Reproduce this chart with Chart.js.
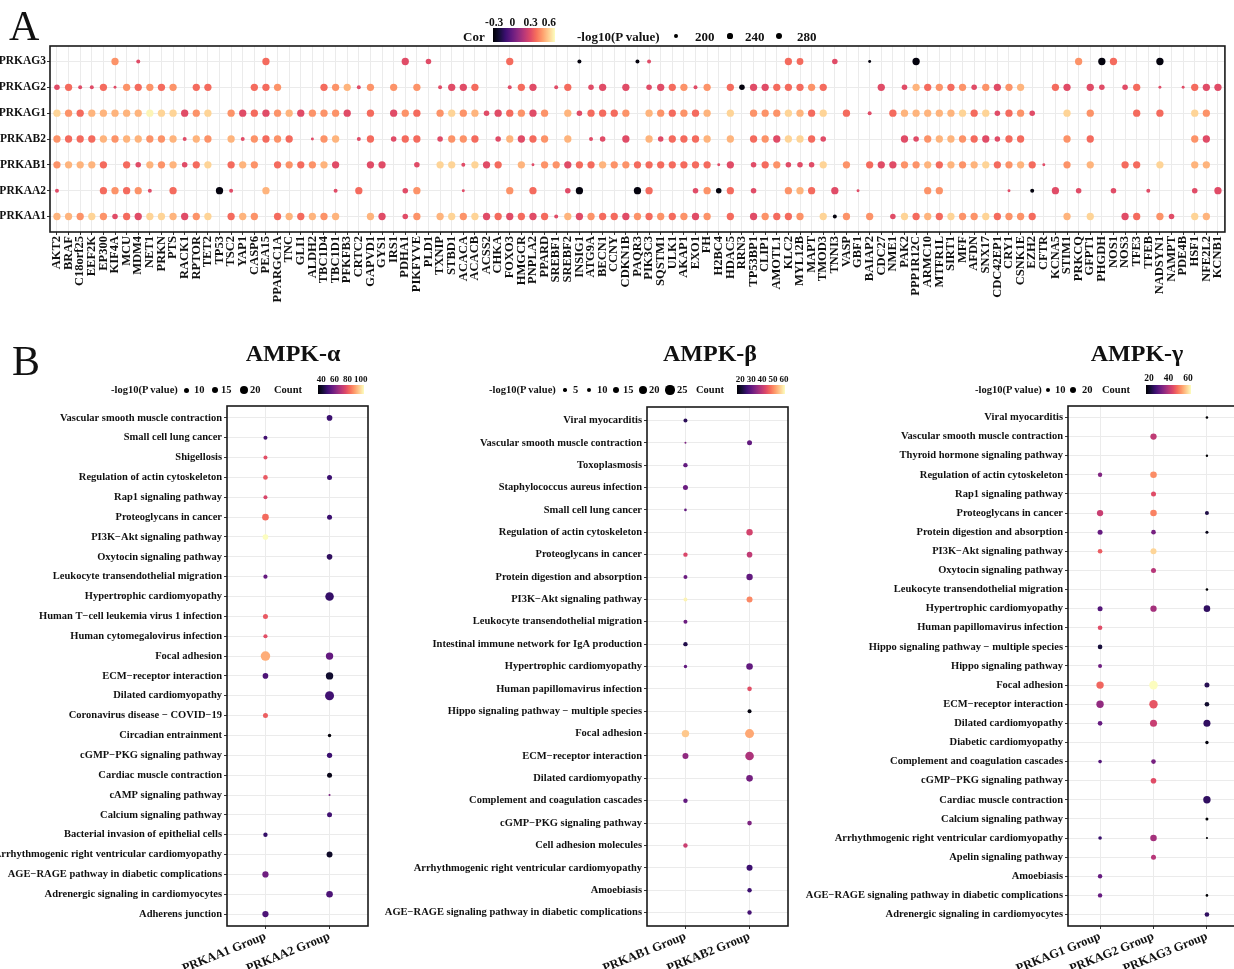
<!DOCTYPE html>
<html>
<head>
<meta charset="utf-8">
<title>AMPK subunit correlation and KEGG enrichment</title>
<script src="https://cdn.jsdelivr.net/npm/chart.js@4.4.1/dist/chart.umd.min.js"></script>
<style>
  html, body { margin:0; padding:0; background:#fff; }
  body { width:1234px; height:969px; overflow:hidden; position:relative; }
  canvas { position:absolute; }
  .txt { position:absolute; font-family:'Liberation Serif','Times New Roman',serif; font-weight:bold; line-height:1; white-space:nowrap; color:#111; }
  .bar { position:absolute; }
  .dot { position:absolute; background:#000; border-radius:50%; }
</style>
</head>
<body>
<canvas id="chartA" width="1234" height="345" style="left:0;top:0;width:1234px;height:345px"></canvas>
<canvas id="chartAlpha" width="385" height="574" style="left:0;top:395px;width:385px;height:574px"></canvas>
<canvas id="chartBeta" width="425" height="574" style="left:375px;top:395px;width:425px;height:574px"></canvas>
<canvas id="chartGamma" width="460" height="574" style="left:790px;top:395px;width:460px;height:574px"></canvas>
<script>
const _ = null;

// ---------------- Panel A data ----------------
const genes = ['AKT2','BRAF','C18orf25','EEF2K','EP300','KIF4A','MCU','MDM4','NET1','PRKN',
'PTS','RACK1','RPTOR','TET2','TP53','TSC2','YAP1','CASP6','PEA15','PPARGC1A',
'TNC','GLI1','ALDH2','TBC1D4','TBC1D1','PFKFB3','CRTC2','GAPVD1','GYS1','IRS1',
'PDHA1','PIKFYVE','PLD1','TXNIP','STBD1','ACACA','ACACB','ACSS2','CHKA','FOXO3',
'HMGCR','PNPLA2','PPARD','SREBF1','SREBF2','INSIG1','ATG9A','BECN1','CCNY','CDKN1B',
'PAQR3','PIK3C3','SQSTM1','ULK1','AKAP1','EXO1','FH','H2BC4','HDAC5','RRN3',
'TP53BP1','CLIP1','AMOTL1','KLC2','MYL12B','MAPT','TMOD3','TNNI3','VASP','GBF1',
'BAIAP2','CDC27','NME1','PAK2','PPP1R12C','ARMC10','MTFR1L','SIRT1','MFF','AFDN',
'SNX17','CDC42EP1','CRY1','CSNK1E','EZH2','CFTR','KCNA5','STIM1','PRKCQ','GFPT1',
'PHGDH','NOS1','NOS3','TFE3','TFEB','NADSYN1','NAMPT','PDE4B','HSF1','NFE2L2',
'KCNB1'];
const subunitsA = ['PRKAG3','PRKAG2','PRKAG1','PRKAB2','PRKAB1','PRKAA2','PRKAA1'];

const corAG3 = [
_,_,_,_,_,0.47,_,0.30,_,_,
_,_,_,_,_,_,_,_,0.38,_,
_,_,_,_,_,_,_,_,_,_,
0.30,_,0.30,_,_,_,_,_,_,0.38,
_,_,_,_,_,-0.30,_,_,_,_,
-0.30,0.30,_,_,_,_,_,_,_,_,
_,_,_,0.38,0.38,_,_,0.30,_,_,
-0.30,_,_,_,-0.30,_,_,_,_,_,
_,_,_,_,_,_,_,_,0.47,_,
-0.30,0.38,_,_,_,-0.30,_,_,_,_,
_];
const logpAG3 = [
_,_,_,_,_,300,_,205,_,_,
_,_,_,_,_,_,_,_,300,_,
_,_,_,_,_,_,_,_,_,_,
300,_,250,_,_,_,_,_,_,300,
_,_,_,_,_,205,_,_,_,_,
205,205,_,_,_,_,_,_,_,_,
_,_,_,300,285,_,_,250,_,_,
175,_,_,_,300,_,_,_,_,_,
_,_,_,_,_,_,_,_,300,_,
300,300,_,_,_,300,_,_,_,_,
_];

const corAG2 = [
0.30,0.38,0.30,0.30,0.38,0.30,0.47,0.38,0.47,0.38,
0.47,_,0.38,0.38,_,_,_,0.38,0.38,0.47,
_,_,_,0.38,0.47,0.54,0.30,0.47,_,0.47,
_,0.47,_,0.30,0.30,0.30,0.38,_,_,0.30,
0.38,0.30,_,0.30,0.38,_,0.30,0.30,_,0.30,
_,0.30,0.30,0.38,0.47,0.30,0.47,_,0.38,-0.30,
0.30,0.30,0.38,0.38,0.38,0.47,0.38,_,_,_,
_,0.30,_,0.30,0.54,0.38,0.47,0.38,0.47,0.30,
0.47,0.30,0.47,0.54,_,_,0.38,0.30,_,0.30,
0.30,_,0.30,0.38,_,0.30,_,0.30,0.38,0.30,
0.30];
const logpAG2 = [
250,300,205,205,300,175,300,300,300,300,
300,_,300,300,_,_,_,300,300,300,
_,_,_,300,300,300,205,300,_,300,
_,300,_,205,300,300,300,_,_,205,
300,300,_,205,300,_,250,300,_,300,
_,250,300,300,300,205,300,_,300,250,
300,300,300,300,300,300,300,_,_,_,
_,300,_,250,300,300,300,300,300,250,
300,300,300,300,_,_,300,300,_,300,
250,_,250,300,_,175,_,175,300,300,
300];

const corAG1 = [
0.61,0.47,0.38,0.54,0.54,0.54,0.54,0.54,0.68,0.61,
0.61,0.30,0.47,0.61,_,0.47,0.30,0.38,0.30,0.47,
0.54,0.30,0.47,0.47,0.47,0.30,_,0.38,_,0.30,
0.47,0.38,_,0.47,0.61,0.47,0.54,0.30,0.30,0.38,
0.47,0.30,0.47,_,0.54,0.30,0.38,0.38,0.38,0.47,
_,0.54,0.47,0.38,0.47,0.38,0.54,_,0.61,_,
0.47,0.47,0.47,0.61,0.54,0.38,0.61,_,0.38,_,
0.30,_,0.38,0.54,0.54,0.54,0.54,0.54,0.61,0.38,
0.61,0.30,0.38,0.47,0.30,_,_,0.61,_,0.47,
_,_,_,0.38,_,0.38,_,_,0.61,0.47,
_];
const logpAG1 = [
300,300,300,300,300,300,300,300,300,300,
300,300,300,300,_,300,300,300,300,300,
300,300,300,300,300,300,_,300,_,300,
300,300,_,300,300,300,300,250,300,300,
300,300,300,_,300,250,300,300,300,300,
_,300,300,300,300,300,300,_,300,_,
300,300,300,300,300,300,300,_,300,_,
205,_,300,300,300,300,300,300,300,300,
300,250,300,300,250,_,_,300,_,300,
_,_,_,300,_,300,_,_,300,300,
_];

const corAB2 = [
0.47,0.38,0.38,0.38,0.54,0.47,0.54,0.54,0.47,0.47,
0.54,0.30,0.54,0.47,_,0.54,0.30,0.47,0.38,0.47,
0.38,_,0.30,0.47,0.54,_,0.30,0.38,_,0.30,
0.38,0.38,_,0.30,0.47,0.47,0.38,_,0.30,0.54,
0.30,0.38,0.47,_,0.54,_,0.30,0.30,_,0.30,
_,0.54,0.30,0.38,0.38,0.38,0.54,_,0.54,_,
0.38,0.47,0.30,0.61,0.61,0.38,0.30,_,_,_,
_,_,_,0.30,0.30,0.47,0.54,0.54,0.47,0.38,
0.30,0.30,0.38,0.38,_,_,_,0.47,_,0.38,
_,_,_,_,_,_,_,_,0.47,0.30,
_];
const logpAB2 = [
300,300,300,300,300,300,300,300,300,300,
300,205,300,300,_,300,205,300,300,300,
300,_,175,300,300,_,205,300,_,250,
300,300,_,250,300,300,300,_,250,300,
300,300,300,_,300,_,205,250,_,300,
_,300,250,300,300,300,300,_,300,_,
300,300,300,300,300,300,250,_,_,_,
_,_,_,300,250,300,300,300,300,300,
300,250,300,300,_,_,_,300,_,300,
_,_,_,_,_,_,_,_,300,300,
_];

const corAB1 = [
0.47,0.54,0.54,0.54,0.38,_,0.38,0.30,0.54,0.47,
0.54,0.30,0.38,0.61,_,0.38,0.54,0.47,_,0.38,
0.47,0.38,0.47,0.54,0.30,_,_,0.30,0.30,_,
_,0.30,_,0.61,0.61,0.30,0.61,0.30,0.38,_,
0.54,0.30,0.47,0.47,0.30,0.38,0.38,0.54,0.47,0.47,
0.38,0.38,0.38,0.38,0.38,0.38,0.38,0.30,0.30,_,
0.30,0.38,0.47,0.30,0.30,0.30,0.61,_,0.47,_,
0.38,0.30,0.30,0.47,0.47,0.54,0.38,0.54,0.47,0.54,
0.61,0.38,0.47,0.54,0.38,0.30,_,0.47,_,0.54,
_,_,0.38,0.38,_,0.61,_,_,0.54,0.54,
_];
const logpAB1 = [
300,300,300,300,300,_,300,250,300,300,
300,250,300,300,_,300,300,300,_,300,
300,300,300,300,300,_,_,300,300,_,
_,250,_,300,300,205,300,300,300,_,
300,175,300,300,300,300,300,300,300,300,
300,300,300,300,300,300,300,175,300,_,
250,300,300,250,250,250,300,_,300,_,
300,300,300,300,300,300,300,300,300,300,
300,300,300,300,300,175,_,300,_,300,
_,_,300,300,_,300,_,_,300,300,
_];

const corAA2 = [
0.30,_,_,_,0.38,0.47,0.38,0.47,0.30,_,
0.38,_,_,_,-0.30,0.30,_,_,0.54,_,
_,_,_,_,0.30,_,0.38,_,_,_,
0.30,0.47,_,_,_,0.30,_,_,_,0.47,
_,0.38,_,_,0.30,-0.30,_,_,_,_,
-0.30,0.38,_,_,_,0.30,0.47,-0.30,0.38,_,
0.30,_,_,0.47,0.54,0.38,_,0.30,_,0.30,
_,_,_,_,_,0.47,0.47,_,_,_,
_,_,0.30,_,-0.30,_,0.30,_,0.30,_,
_,0.30,_,_,0.30,_,_,_,0.30,_,
0.30];
const logpAA2 = [
205,_,_,_,300,300,300,300,205,_,
300,_,_,_,300,205,_,_,300,_,
_,_,_,_,205,_,300,_,_,_,
250,300,_,_,_,175,_,_,_,300,
_,300,_,_,250,300,_,_,_,_,
300,300,_,_,_,250,300,250,300,_,
250,_,_,300,300,300,_,300,_,175,
_,_,_,_,_,300,300,_,_,_,
_,_,175,_,205,_,300,_,250,_,
_,250,_,_,205,_,_,_,250,_,
300];

const corAA1 = [
0.54,0.54,0.47,0.61,0.47,0.30,0.38,0.30,0.61,0.61,
0.54,0.30,0.47,0.61,_,0.38,0.54,0.47,_,0.38,
0.54,0.38,0.54,0.47,0.54,_,_,0.54,0.30,_,
0.30,0.47,_,0.54,0.61,0.47,0.61,0.30,0.38,0.30,
0.38,0.30,0.38,0.30,0.54,0.30,0.47,0.38,0.38,0.30,
0.47,0.38,0.47,0.38,0.47,0.30,0.47,_,0.38,_,
0.30,0.47,0.38,0.38,0.47,_,0.61,-0.30,0.47,_,
0.47,_,0.30,0.61,0.38,0.54,0.38,0.61,0.47,0.47,
0.61,0.38,0.47,0.47,0.38,_,_,0.54,_,0.61,
_,_,0.30,0.38,_,0.47,0.30,_,0.61,0.54,
_];
const logpAA1 = [
300,300,300,300,300,250,300,300,300,300,
300,300,300,300,_,300,300,300,_,300,
300,300,300,300,300,_,_,300,300,_,
250,300,_,300,300,300,300,300,300,300,
300,300,300,205,300,300,300,300,300,300,
300,300,300,300,300,300,300,_,300,_,
300,300,300,300,300,_,300,205,300,_,
300,_,250,300,300,300,300,300,300,300,
300,300,300,300,300,_,_,300,_,300,
_,_,300,300,_,300,250,_,300,300,
_];

const corTicks = [-0.3, 0, 0.3, 0.6];
const logpTicksA = [200, 240, 280];

// ---------------- Panel B data ----------------
const alphaPathways = ['Vascular smooth muscle contraction','Small cell lung cancer','Shigellosis',
'Regulation of actin cytoskeleton','Rap1 signaling pathway','Proteoglycans in cancer',
'PI3K\u2212Akt signaling pathway','Oxytocin signaling pathway','Leukocyte transendothelial migration',
'Hypertrophic cardiomyopathy','Human T\u2212cell leukemia virus 1 infection','Human cytomegalovirus infection',
'Focal adhesion','ECM\u2212receptor interaction','Dilated cardiomyopathy','Coronavirus disease \u2212 COVID\u221219',
'Circadian entrainment','cGMP\u2212PKG signaling pathway','Cardiac muscle contraction','cAMP signaling pathway',
'Calcium signaling pathway','Bacterial invasion of epithelial cells','Arrhythmogenic right ventricular cardiomyopathy',
'AGE\u2212RAGE pathway in diabetic complications','Adrenergic signaling in cardiomyocytes','Adherens junction'];
const alphaGroups = ['PRKAA1 Group','PRKAA2 Group'];
const alphaCountAA1 = [_,50,78,80,76,83,105,_,56,_,80,78,93,52,_,81,_,_,_,_,_,48,_,58,_,52];
const alphaLogpAA1  = [_,7,7,9,7,15,12,_,7.5,_,10,7.5,24,12,_,10,_,_,_,_,_,8,_,14,_,14];
const alphaCountAA2 = [49,_,_,49,_,49,_,47,_,48,_,_,56,41,50,_,36,49,38,60,50,_,40,_,52,_];
const alphaLogpAA2  = [12,_,_,10,_,10,_,12,_,21,_,_,17.5,17.5,22.5,_,5,11,10,0.8,10,_,13,_,15,_];
const alphaCountTicks = [40,60,80,100];
const alphaLogpTicks = [10,15,20];

const betaPathways = ['Viral myocarditis','Vascular smooth muscle contraction','Toxoplasmosis',
'Staphylococcus aureus infection','Small cell lung cancer','Regulation of actin cytoskeleton',
'Proteoglycans in cancer','Protein digestion and absorption','PI3K\u2212Akt signaling pathway',
'Leukocyte transendothelial migration','Intestinal immune network for IgA production','Hypertrophic cardiomyopathy',
'Human papillomavirus infection','Hippo signaling pathway \u2212 multiple species','Focal adhesion',
'ECM\u2212receptor interaction','Dilated cardiomyopathy','Complement and coagulation cascades',
'cGMP\u2212PKG signaling pathway','Cell adhesion molecules','Arrhythmogenic right ventricular cardiomyopathy',
'Amoebiasis','AGE\u2212RAGE signaling pathway in diabetic complications'];
const betaGroups = ['PRKAB1 Group','PRKAB2 Group'];
const betaCountAB1 = [24,33,30,31,30,_,43,31,60,31,23,30,_,_,56,35,_,30,_,41,_,_,_];
const betaLogpAB1  = [7.3,0.7,8.7,10.7,2.7,_,8.7,7.3,7.3,7.3,8.7,5.3,_,_,18.7,14,_,8.7,_,8.7,_,_,_];
const betaCountAB2 = [_,30,_,_,_,42,40,30,50,_,_,30,44,18,53,38,32,_,33,_,26,26,27];
const betaLogpAB2  = [_,10.7,_,_,_,15.3,12.7,15.3,14,_,_,16,9.3,7.3,24,22.7,16,_,9.3,_,14,8.7,8.7];
const betaCountTicks = [20,30,40,50,60];
const betaLogpTicks = [5,10,15,20,25];

const gammaPathways = ['Viral myocarditis','Vascular smooth muscle contraction','Thyroid hormone signaling pathway',
'Regulation of actin cytoskeleton','Rap1 signaling pathway','Proteoglycans in cancer',
'Protein digestion and absorption','PI3K\u2212Akt signaling pathway','Oxytocin signaling pathway',
'Leukocyte transendothelial migration','Hypertrophic cardiomyopathy','Human papillomavirus infection',
'Hippo signaling pathway \u2212 multiple species','Hippo signaling pathway','Focal adhesion',
'ECM\u2212receptor interaction','Dilated cardiomyopathy','Diabetic cardiomyopathy',
'Complement and coagulation cascades','cGMP\u2212PKG signaling pathway','Cardiac muscle contraction',
'Calcium signaling pathway','Arrhythmogenic right ventricular cardiomyopathy','Apelin signaling pathway',
'Amoebiasis','AGE\u2212RAGE signaling pathway in diabetic complications','Adrenergic signaling in cardiomyocytes'];
const gammaGroups = ['PRKAG1 Group','PRKAG2 Group','PRKAG3 Group'];
const gammaCountAG1 = [_,_,_,34,_,42,31,47,_,_,29,45,22,32,48,36,31,_,29,_,_,_,26,_,31,31,_];
const gammaLogpAG1  = [_,_,_,10,_,18,12.5,11,_,_,12.5,11,11,8.3,22.5,22.5,11,_,6.7,_,_,_,6.7,_,10,10,_];
const gammaCountAG2 = [_,41,_,52,45,51,33,59,40,_,38,_,_,_,63,46,42,_,33,45,_,_,38,40,_,_,_];
const gammaLogpAG2  = [_,18,_,19,12.5,19,11,16.7,12.5,_,18,_,_,_,27.5,26.7,21,_,11,15,_,_,19,12.5,_,_,_];
const gammaCountAG3 = [17,_,17,_,_,23,19,_,_,17,25,_,_,_,24,21,25,18,_,_,25,17,17,_,_,17,25];
const gammaLogpAG3  = [2.5,_,1.7,_,_,8.3,4.2,_,_,2.5,19,_,_,_,12.5,11,21,5.8,_,_,22.5,4.2,0.5,_,_,2.5,11];
const gammaCountTicks = [20,40,60];
const gammaLogpTicks = [10,20];

// ---------------- scales (value -> colour / radius) ----------------
const MAGMA = ['#000004','#140e36','#3b0f70','#641a80','#8c2981','#b73779','#de4968','#f7705c','#fe9f6d','#fecf92','#fcfdbf'];
const MAGMA_RGB = MAGMA.map(h => [parseInt(h.slice(1,3),16), parseInt(h.slice(3,5),16), parseInt(h.slice(5,7),16)]);
function magma(t) {
  t = Math.max(0, Math.min(1, t));
  const p = t * (MAGMA.length - 1);
  const i = Math.min(Math.floor(p), MAGMA.length - 2);
  const f = p - i, a = MAGMA_RGB[i], b = MAGMA_RGB[i + 1];
  return 'rgb(' + [0,1,2].map(k => Math.round(a[k] + (b[k] - a[k]) * f)).join(',') + ')';
}
const GRAD = 'linear-gradient(to right,' + MAGMA.join(',') + ')';

const corRange = [-0.32, 0.70];
const alphaRange = [35, 105];
const betaRange = [17, 61];
const gammaRange = [17, 63];
const colorIn = rng => v => magma((v - rng[0]) / (rng[1] - rng[0]));
const sizeA = v => 0.5 + 3.5 * (v - 120) / 200;
const sizeAlpha = v => 0.9 + 0.16 * v;
const sizeBeta = v => 0.9 + 0.15 * v;
const sizeGamma = v => 1.0 + 0.12 * v;

// ---------------- chart builder ----------------
const FONT = "'Liberation Serif','Times New Roman',serif";
const framePlugin = {
  id: 'frame',
  afterDraw(chart) {
    const { ctx, chartArea: a } = chart;
    ctx.save();
    ctx.strokeStyle = '#1a1a1a';
    ctx.lineWidth = 1.6;
    ctx.strokeRect(a.left, a.top, a.right - a.left, a.bottom - a.top);
    ctx.restore();
  }
};

function catAxis(labels, cfg) {
  return {
    type: 'linear',
    reverse: !!cfg.reverse,
    min: -0.6,
    max: labels.length - 0.4,
    afterBuildTicks: s => { s.ticks = labels.map((l, i) => ({ value: i })); },
    afterFit: s => { if (cfg.height != null) s.height = cfg.height; if (cfg.width != null) s.width = cfg.width; },
    ticks: {
      autoSkip: false,
      minRotation: cfg.rot || 0,
      maxRotation: cfg.rot || 0,
      padding: cfg.pad,
      color: '#111',
      font: { family: FONT, weight: 'bold', size: cfg.size },
      callback: v => labels[v]
    },
    grid: { color: '#ebebeb', lineWidth: 1, tickColor: '#333', tickLength: 3 },
    border: { display: false }
  };
}

function makeChart(id, points, colorFn, sizeFn, xAxis, yAxis, padding) {
  return new Chart(document.getElementById(id), {
    type: 'scatter',
    data: { datasets: [{
      data: points,
      pointStyle: 'circle',
      pointRadius: ctx => ctx.raw ? sizeFn(ctx.raw.v) : 0,
      pointBackgroundColor: ctx => ctx.raw ? colorFn(ctx.raw.c) : '#000',
      pointBorderWidth: 0,
      pointHoverRadius: ctx => ctx.raw ? sizeFn(ctx.raw.v) : 0
    }] },
    options: {
      responsive: false, animation: false, devicePixelRatio: 1, events: [],
      layout: { padding },
      plugins: { legend: { display: false }, tooltip: { enabled: false } },
      scales: { x: xAxis, y: yAxis }
    },
    plugins: [framePlugin]
  });
}

// Panel A points
const corRows = [corAG3, corAG2, corAG1, corAB2, corAB1, corAA2, corAA1];
const logpRows = [logpAG3, logpAG2, logpAG1, logpAB2, logpAB1, logpAA2, logpAA1];
const ptsA = [];
corRows.forEach((row, yi) => row.forEach((c, xi) => {
  if (c !== null) ptsA.push({ x: xi, y: yi, c, v: logpRows[yi][xi] });
}));
makeChart('chartA', ptsA, colorIn(corRange), sizeA,
  catAxis(genes, { rot: 90, size: 12.5, pad: 1, height: 113 }),
  catAxis(subunitsA, { reverse: true, size: 11.5, pad: 1, width: 50 }),
  { top: 46, right: 7, left: 0, bottom: 0 });

function groupPoints(counts, logps) {
  const pts = [];
  counts.forEach((col, xi) => col.forEach((c, yi) => {
    if (c !== null) pts.push({ x: xi, y: yi, c, v: logps[xi][yi] });
  }));
  return pts;
}

makeChart('chartAlpha', groupPoints([alphaCountAA1, alphaCountAA2], [alphaLogpAA1, alphaLogpAA2]),
  colorIn(alphaRange), sizeAlpha,
  catAxis(alphaGroups, { rot: 22, size: 12.5, pad: 0, height: 43 }),
  catAxis(alphaPathways, { reverse: true, size: 10.5, pad: 2, width: 227 }),
  { top: 11, right: 17, left: 0, bottom: 0 });

makeChart('chartBeta', groupPoints([betaCountAB1, betaCountAB2], [betaLogpAB1, betaLogpAB2]),
  colorIn(betaRange), sizeBeta,
  catAxis(betaGroups, { rot: 22, size: 12.5, pad: 0, height: 43 }),
  catAxis(betaPathways, { reverse: true, size: 10.5, pad: 2, width: 272 }),
  { top: 12, right: 12, left: 0, bottom: 0 });

makeChart('chartGamma', groupPoints([gammaCountAG1, gammaCountAG2, gammaCountAG3], [gammaLogpAG1, gammaLogpAG2, gammaLogpAG3]),
  colorIn(gammaRange), sizeGamma,
  catAxis(gammaGroups, { rot: 22, size: 12.5, pad: 0, height: 43 }),
  catAxis(gammaPathways, { reverse: true, size: 10.5, pad: 2, width: 278 }),
  { top: 11, right: 11, left: 0, bottom: 0 });

// ---------------- text, legends ----------------
function txt(s, x, y, size, align, weight) {
  const d = document.createElement('div');
  d.className = 'txt';
  d.textContent = s;
  d.style.left = x + 'px';
  d.style.top = y + 'px';
  d.style.fontSize = size + 'px';
  if (weight) d.style.fontWeight = weight;
  const tx = align === 'center' ? '-50%' : align === 'right' ? '-100%' : '0';
  d.style.transform = 'translate(' + tx + ',-50%)';
  document.body.appendChild(d);
}
function dot(x, y, r) {
  const d = document.createElement('div');
  d.className = 'dot';
  d.style.left = (x - r) + 'px'; d.style.top = (y - r) + 'px';
  d.style.width = (2 * r) + 'px'; d.style.height = (2 * r) + 'px';
  document.body.appendChild(d);
}
function bar(x, y, w, h) {
  const d = document.createElement('div');
  d.className = 'bar';
  d.style.left = x + 'px'; d.style.top = y + 'px';
  d.style.width = w + 'px'; d.style.height = h + 'px';
  d.style.background = GRAD;
  document.body.appendChild(d);
}
function colorLegend(ticks, rng, x, y, w, h, size, labelY) {
  bar(x, y, w, h);
  ticks.forEach(t => txt(String(t), x + (t - rng[0]) / (rng[1] - rng[0]) * w, labelY, size, 'center'));
}
function sizeLegend(ticks, sizeFn, dotXs, labelXs, y, size) {
  ticks.forEach((t, i) => { dot(dotXs[i], y, sizeFn(t)); txt(String(t), labelXs[i], y, size, 'left'); });
}

txt('A', 9, 26, 42, 'left', 'normal');
txt('B', 12, 361, 42, 'left', 'normal');

// Panel A legend
txt('Cor', 463, 36, 13, 'left');
colorLegend(corTicks, corRange, 493, 28, 62, 14, 11.5, 23);
txt('-log10(P value)', 577, 36, 13, 'left');
sizeLegend(logpTicksA, sizeA, [676, 730, 779], [695, 745, 797], 36, 13);

// Panel B titles & legends
txt('AMPK-\u03b1', 293, 353, 24, 'center');
txt('AMPK-\u03b2', 710, 353, 24, 'center');
txt('AMPK-\u03b3', 1137, 353, 24, 'center');

txt('-log10(P value)', 111, 390, 10.5, 'left');
sizeLegend(alphaLogpTicks, sizeAlpha, [186, 215, 244], [194, 221, 250], 390, 10.5);
txt('Count', 274, 390, 10.5, 'left');
colorLegend(alphaCountTicks, alphaRange, 318, 385, 46, 9, 9, 379);

txt('-log10(P value)', 489, 390, 10.5, 'left');
sizeLegend(betaLogpTicks, sizeBeta, [565, 589, 616, 643, 670], [573, 597, 623, 649, 677], 390, 10.5);
txt('Count', 696, 390, 10.5, 'left');
colorLegend(betaCountTicks, betaRange, 737, 385, 48, 9, 9, 379);

txt('-log10(P value)', 975, 390, 10.5, 'left');
sizeLegend(gammaLogpTicks, sizeGamma, [1048, 1073], [1055, 1082], 390, 10.5);
txt('Count', 1102, 390, 10.5, 'left');
colorLegend(gammaCountTicks, gammaRange, 1146, 385, 45, 9, 9.5, 379);
</script>
</body>
</html>
